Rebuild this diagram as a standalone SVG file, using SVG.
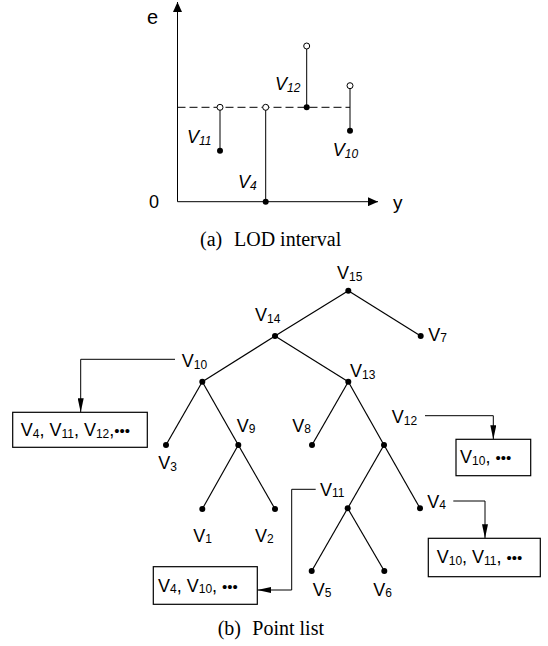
<svg xmlns="http://www.w3.org/2000/svg" width="548" height="646" viewBox="0 0 548 646">
<style>
  .ln{stroke:#000;stroke-width:1.2;fill:none}
  .cn{stroke:#000;stroke-width:1;fill:none}
  .dash{stroke:#000;stroke-width:1;fill:none;stroke-dasharray:8 4}
  .dot{fill:#000}
  .open{fill:#fff;stroke:#000;stroke-width:1}
  .box{fill:#fff;stroke:#000;stroke-width:1.2}
  .t{font-family:"Liberation Sans",Arial,sans-serif;font-size:18px;fill:#000}
  .ti{font-family:"Liberation Sans",Arial,sans-serif;font-size:18px;font-style:italic;fill:#000}
  .s{font-size:12px}
  .b{font-size:15px}
  .cap{font-family:"Liberation Serif","Times New Roman",serif;font-size:20px;fill:#000}
</style>
<defs>
  <marker id="ah" markerUnits="userSpaceOnUse" markerWidth="14" markerHeight="6" refX="14" refY="3" orient="auto">
    <path d="M0,0 L14,3 L0,6 z" fill="#000"/>
  </marker>
  <marker id="ax" markerUnits="userSpaceOnUse" markerWidth="10" markerHeight="9" refX="10" refY="4.5" orient="auto">
    <path d="M0,0 L10,4.5 L0,9 z" fill="#000"/>
  </marker>
</defs>

<g id="lod-chart">
  <line class="cn" x1="177.5" y1="201.7" x2="177.5" y2="2" marker-end="url(#ax)"/>
  <line class="cn" x1="177.5" y1="201.7" x2="378" y2="201.7" marker-end="url(#ax)"/>
  <line class="dash" x1="177.5" y1="107.3" x2="350" y2="107.3"/>
  <text class="t" x="147" y="23.5" style="font-size:20px">e</text>
  <text class="t" x="149" y="207.5" style="font-size:18px">0</text>
  <text class="t" x="393" y="209" style="font-size:19px">y</text>
  <g id="lod-v11">
    <line class="cn" x1="220" y1="107.3" x2="220" y2="150.7"/>
    <circle class="open" cx="220" cy="107.3" r="3"/>
    <circle class="dot" cx="220" cy="150.7" r="3"/>
    <text class="ti" x="187" y="143">V<tspan class="s" dy="2">11</tspan></text>
  </g>
  <g id="lod-v4">
    <line class="cn" x1="265.7" y1="107.3" x2="265.7" y2="201.7"/>
    <circle class="open" cx="265.7" cy="107.3" r="3"/>
    <circle class="dot" cx="265.7" cy="201.7" r="3"/>
    <text class="ti" x="238" y="188">V<tspan class="s" dy="2">4</tspan></text>
  </g>
  <g id="lod-v12">
    <line class="cn" x1="306.7" y1="46" x2="306.7" y2="107.3"/>
    <circle class="open" cx="306.7" cy="46" r="3"/>
    <circle class="dot" cx="306.7" cy="107.3" r="3"/>
    <text class="ti" x="275" y="90">V<tspan class="s" dy="2">12</tspan></text>
  </g>
  <g id="lod-v10">
    <line class="cn" x1="350" y1="85.7" x2="350" y2="130.7"/>
    <circle class="open" cx="350" cy="85.7" r="3"/>
    <circle class="dot" cx="350" cy="130.7" r="3"/>
    <text class="ti" x="332.7" y="156">V<tspan class="s" dy="2">10</tspan></text>
  </g>
  <text class="cap" x="200" y="246.3">(a)</text>
  <text class="cap" x="234" y="246.3">LOD interval</text>
</g>

<g id="edges">
  <line class="ln" x1="348.3" y1="290.7" x2="275" y2="336"/>
  <line class="ln" x1="348.3" y1="290.7" x2="420.7" y2="336"/>
  <line class="ln" x1="275" y1="336" x2="202.3" y2="381.7"/>
  <line class="ln" x1="275" y1="336" x2="348.3" y2="381.7"/>
  <line class="ln" x1="202.3" y1="381.7" x2="166" y2="445"/>
  <line class="ln" x1="202.3" y1="381.7" x2="238.3" y2="445"/>
  <line class="ln" x1="348.3" y1="381.7" x2="312" y2="445"/>
  <line class="ln" x1="348.3" y1="381.7" x2="384" y2="445"/>
  <line class="ln" x1="238.3" y1="445" x2="202.3" y2="509"/>
  <line class="ln" x1="238.3" y1="445" x2="275" y2="509"/>
  <line class="ln" x1="384" y1="445" x2="347.7" y2="508.3"/>
  <line class="ln" x1="384" y1="445" x2="420" y2="508.3"/>
  <line class="ln" x1="347.7" y1="508.3" x2="311.7" y2="571"/>
  <line class="ln" x1="347.7" y1="508.3" x2="384.3" y2="571"/>
</g>

<g id="connectors">
  <polyline class="cn" points="175,359.3 80.7,359.3 80.7,412.3" marker-end="url(#ah)"/>
  <polyline class="cn" points="425,415.7 493.3,415.7 493.3,439.3" marker-end="url(#ah)"/>
  <polyline class="cn" points="453.3,501 485,501 485,538.3" marker-end="url(#ah)"/>
  <polyline class="cn" points="315.7,489.3 291.7,489.3 291.7,590 257.3,590" marker-end="url(#ah)"/>
</g>

<g id="n-v15"><circle class="dot" cx="348.3" cy="290.7" r="3"/><text class="t" x="337" y="279">V<tspan class="s" dy="1.5">15</tspan></text></g>
<g id="n-v14"><circle class="dot" cx="275" cy="336" r="3"/><text class="t" x="255" y="321">V<tspan class="s" dy="1.5">14</tspan></text></g>
<g id="n-v7"><circle class="dot" cx="420.7" cy="336" r="3"/><text class="t" x="428.3" y="340.7">V<tspan class="s" dy="1.5">7</tspan></text></g>
<g id="n-v10"><circle class="dot" cx="202.3" cy="381.7" r="3"/><text class="t" x="181.7" y="367">V<tspan class="s" dy="1.5">10</tspan></text></g>
<g id="n-v13"><circle class="dot" cx="348.3" cy="381.7" r="3"/><text class="t" x="350" y="377">V<tspan class="s" dy="1.5">13</tspan></text></g>
<g id="n-v3"><circle class="dot" cx="166" cy="445" r="3"/><text class="t" x="158.3" y="469">V<tspan class="s" dy="1.5">3</tspan></text></g>
<g id="n-v9"><circle class="dot" cx="238.3" cy="445" r="3"/><text class="t" x="236.7" y="431.7">V<tspan class="s" dy="1.5">9</tspan></text></g>
<g id="n-v8"><circle class="dot" cx="312" cy="445" r="3"/><text class="t" x="292.3" y="431.7">V<tspan class="s" dy="1.5">8</tspan></text></g>
<g id="n-v12"><circle class="dot" cx="384" cy="445" r="3"/><text class="t" x="391.7" y="423.3">V<tspan class="s" dy="1.5">12</tspan></text></g>
<g id="n-v1"><circle class="dot" cx="202.3" cy="509" r="3"/><text class="t" x="193.3" y="541.7">V<tspan class="s" dy="1.5">1</tspan></text></g>
<g id="n-v2"><circle class="dot" cx="275" cy="509" r="3"/><text class="t" x="255" y="541.7">V<tspan class="s" dy="1.5">2</tspan></text></g>
<g id="n-v11"><circle class="dot" cx="347.7" cy="508.3" r="3"/><text class="t" x="320" y="495.7">V<tspan class="s" dy="1.5">11</tspan></text></g>
<g id="n-v4"><circle class="dot" cx="420" cy="508.3" r="3"/><text class="t" x="427.3" y="507.7">V<tspan class="s" dy="1.5">4</tspan></text></g>
<g id="n-v5"><circle class="dot" cx="311.7" cy="571" r="3"/><text class="t" x="312.7" y="595.7">V<tspan class="s" dy="1.5">5</tspan></text></g>
<g id="n-v6"><circle class="dot" cx="384.3" cy="571" r="3"/><text class="t" x="373.3" y="595.7">V<tspan class="s" dy="1.5">6</tspan></text></g>

<g id="list-v10">
  <rect class="box" x="12.7" y="412.3" width="134.6" height="35"/>
  <text class="t" x="20.7" y="436">V<tspan class="s" dy="1.5">4</tspan><tspan dy="-1.5">, V</tspan><tspan class="s" dy="1.5">11</tspan><tspan dy="-1.5">, V</tspan><tspan class="s" dy="1.5">12</tspan><tspan dy="-1.5">,</tspan><tspan class="b">•••</tspan></text>
</g>
<g id="list-v12">
  <rect class="box" x="456" y="439.3" width="74.7" height="36.4"/>
  <text class="t" x="460" y="463">V<tspan class="s" dy="1.5">10</tspan><tspan dy="-1.5">, </tspan><tspan class="b">•••</tspan></text>
</g>
<g id="list-v4">
  <rect class="box" x="428.3" y="538.3" width="112" height="38.4"/>
  <text class="t" x="436.7" y="563.3">V<tspan class="s" dy="1.5">10</tspan><tspan dy="-1.5">, V</tspan><tspan class="s" dy="1.5">11</tspan><tspan dy="-1.5">, </tspan><tspan class="b">•••</tspan></text>
</g>
<g id="list-v11">
  <rect class="box" x="153.3" y="566.7" width="104" height="37.6"/>
  <text class="t" x="158" y="591.7">V<tspan class="s" dy="1.5">4</tspan><tspan dy="-1.5">, V</tspan><tspan class="s" dy="1.5">10</tspan><tspan dy="-1.5">, </tspan><tspan class="b">•••</tspan></text>
</g>

<text class="cap" x="217.7" y="634.7">(b)</text>
<text class="cap" x="252.3" y="634.7">Point list</text>
</svg>
